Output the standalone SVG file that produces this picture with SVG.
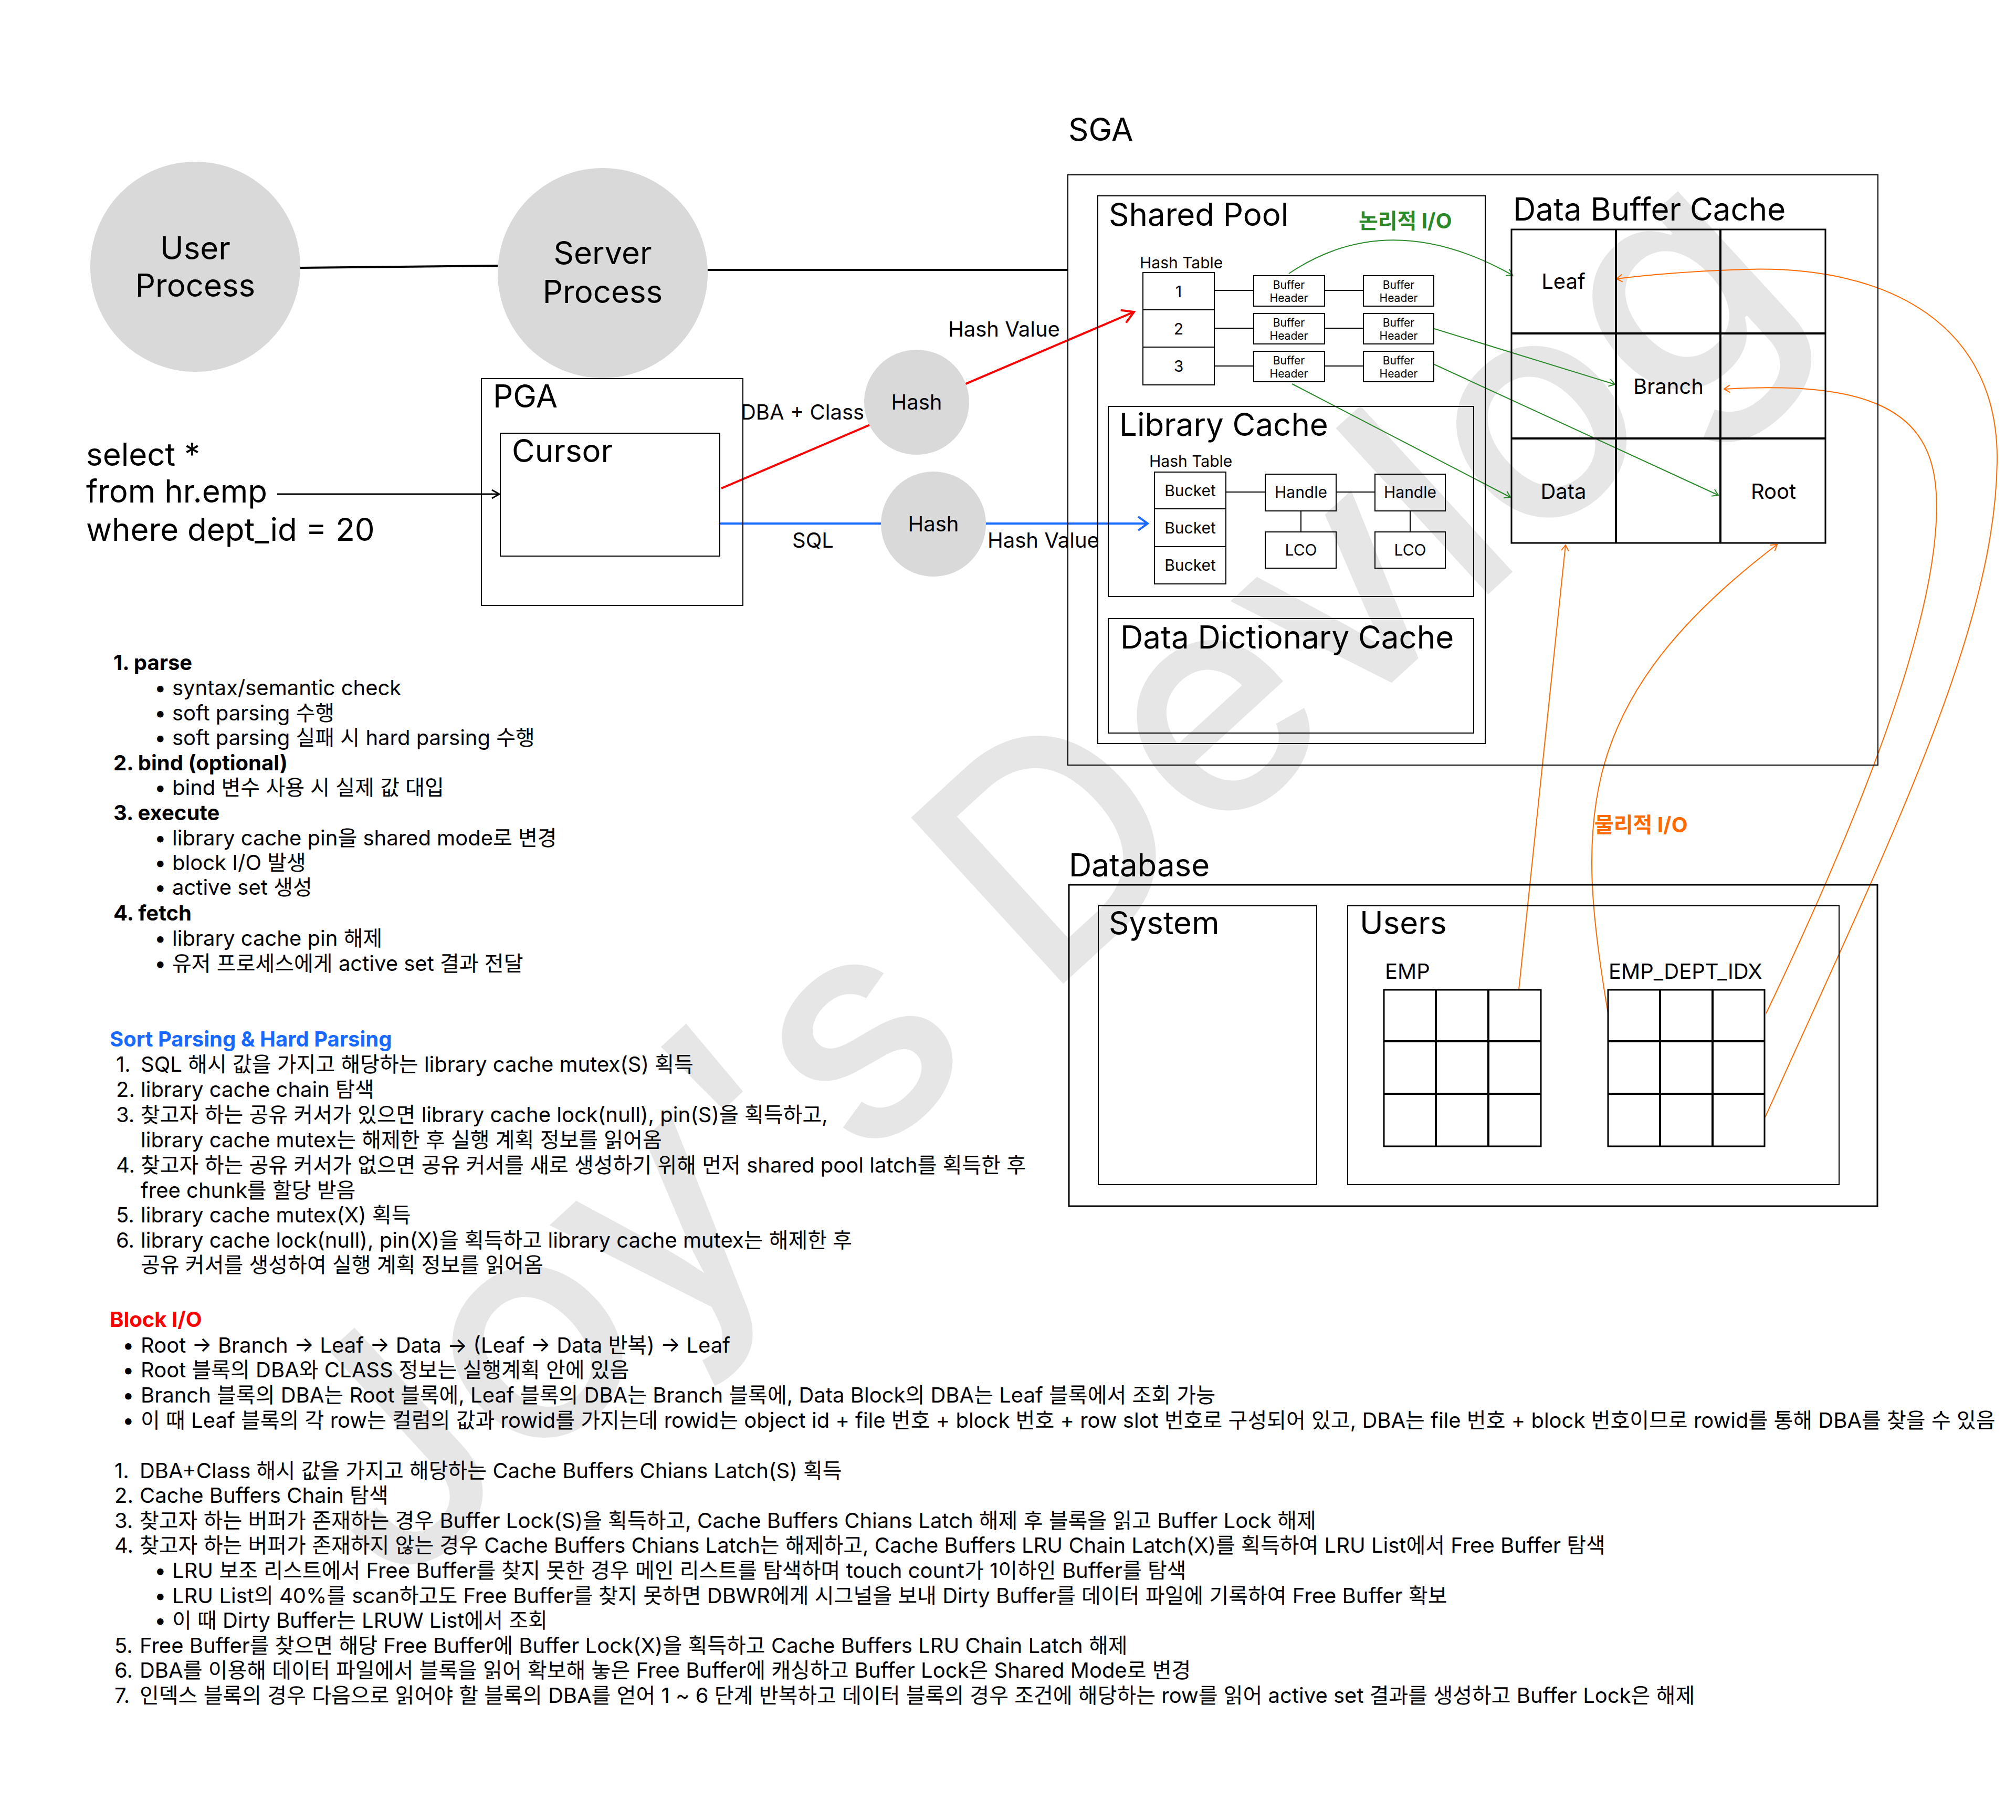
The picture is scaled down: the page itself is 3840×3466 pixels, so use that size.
<svg xmlns="http://www.w3.org/2000/svg" width="3840" height="3466" viewBox="0 0 3840 3466">
<style>
text{font-family:Inter,"Noto Sans CJK KR",sans-serif;fill:#000}
.t58{font-size:60px}
.t56{font-size:60px}
.t40{font-size:40px}
.t30{font-size:30px}
.t21{font-size:21px}
.mid{text-anchor:middle}
.b{font-size:40px}
.bb{font-size:40px;font-weight:700}
.box{fill:none;stroke:#000;stroke-width:2}
.ell{fill:#d9d9d9}
.thin{fill:none;stroke:#000;stroke-width:2}
.grid{fill:none;stroke:#000;stroke-width:4}
.green{fill:none;stroke:#2a8a2a;stroke-width:2}
.orange{fill:none;stroke:#ff6a00;stroke-width:2}
.wm{font-size:590px;font-weight:500;fill:#e6e6e6}
</style>
<defs>
<marker id="aBlack" markerUnits="userSpaceOnUse" markerWidth="20" markerHeight="20" viewBox="0 0 20 20" refX="17" refY="10" orient="auto" overflow="visible"><path d="M3,2 L17,10 L3,18" fill="none" stroke="#000" stroke-width="3"/></marker>
<marker id="aRed" markerUnits="userSpaceOnUse" markerWidth="30" markerHeight="30" viewBox="0 0 30 30" refX="27" refY="15" orient="auto" overflow="visible"><path d="M5,2 L27,15 L5,28" fill="none" stroke="#ff0000" stroke-width="4"/></marker>
<marker id="aBlue" markerUnits="userSpaceOnUse" markerWidth="30" markerHeight="30" viewBox="0 0 30 30" refX="27" refY="15" orient="auto" overflow="visible"><path d="M9,2 L27,15 L9,28" fill="none" stroke="#1769ff" stroke-width="4"/></marker>
<marker id="aGreen" markerUnits="userSpaceOnUse" markerWidth="16" markerHeight="16" viewBox="0 0 16 16" refX="14" refY="8" orient="auto" overflow="visible"><path d="M3,1 L14,8 L3,15" fill="none" stroke="#2a8a2a" stroke-width="2"/></marker>
<marker id="aOrange" markerUnits="userSpaceOnUse" markerWidth="16" markerHeight="16" viewBox="0 0 16 16" refX="14" refY="8" orient="auto" overflow="visible"><path d="M3,1 L14,8 L3,15" fill="none" stroke="#ff6a00" stroke-width="2"/></marker>
</defs>
<rect width="3840" height="3466" fill="#fff"/>
<text class="wm" x="750" y="3042" transform="rotate(-42.5 750 3042)">Joy's Devlog</text>

<g id="connectors">
<line x1="571" y1="510" x2="948" y2="506" stroke="#000" stroke-width="4"/>
<line x1="1347" y1="514" x2="2034" y2="514" stroke="#000" stroke-width="4"/>
<line x1="528" y1="941" x2="951" y2="941" stroke="#000" stroke-width="3" marker-end="url(#aBlack)"/>
<line x1="1374" y1="930" x2="2160" y2="594" stroke="#ff0000" stroke-width="4" marker-end="url(#aRed)"/>
<line x1="1371" y1="997" x2="2186" y2="997" stroke="#1769ff" stroke-width="4" marker-end="url(#aBlue)"/>
<g class="thin">
<line x1="2313" y1="553" x2="2388" y2="553"/><line x1="2523" y1="553" x2="2597" y2="553"/>
<line x1="2313" y1="625" x2="2388" y2="625"/><line x1="2523" y1="625" x2="2597" y2="625"/>
<line x1="2313" y1="697" x2="2388" y2="697"/><line x1="2523" y1="697" x2="2597" y2="697"/>
<line x1="2335" y1="937" x2="2410" y2="937"/><line x1="2545" y1="937" x2="2619" y2="937"/>
<line x1="2478" y1="973" x2="2478" y2="1013"/><line x1="2686" y1="973" x2="2686" y2="1013"/>
</g>
<path class="green" d="M2455,521 Q2646,392 2881,524" marker-end="url(#aGreen)"/>
<path class="green" d="M2732,626 L3076,732" marker-end="url(#aGreen)"/>
<path class="green" d="M2732,694 L3273,943" marker-end="url(#aGreen)"/>
<path class="green" d="M2461,731 L2877,947" marker-end="url(#aGreen)"/>
<path class="orange" d="M2893,1885 L2982,1038" marker-end="url(#aOrange)"/>
<path class="orange" d="M3063,1930 C3000,1560 3000,1330 3385,1037" marker-end="url(#aOrange)"/>
<path class="orange" d="M3364,1930 C3560,1520 3700,1150 3688,940 C3680,780 3560,725 3284,741" marker-end="url(#aOrange)"/>
<path class="orange" d="M3362,2128 C3600,1600 3800,1200 3804,880 C3808,620 3600,505 3326,513 C3230,516 3150,522 3079,531" marker-end="url(#aOrange)"/>
</g>

<g id="user-process"><circle class="ell" cx="372" cy="508" r="200"/><text class="t58 mid" x="372" y="494">User</text><text class="t58 mid" x="372" y="565">Process</text></g>
<g id="server-process"><circle class="ell" cx="1148" cy="520" r="200"/><text class="t58 mid" x="1148" y="503">Server</text><text class="t58 mid" x="1148" y="577">Process</text></g>
<g id="sql-query"><text class="t56" x="164" y="887">select *</text><text class="t56" x="164" y="957">from hr.emp</text><text class="t56" x="164" y="1030">where dept_id = 20</text></g>
<g id="pga"><rect class="box" x="917" y="721" width="498" height="432"/><text class="t58" x="939" y="776">PGA</text></g>
<g id="cursor"><rect class="box" x="953" y="825" width="418" height="234"/><text class="t58" x="975" y="880">Cursor</text></g>
<g id="hash-dba"><circle class="ell" cx="1746" cy="766" r="100"/><text class="t40 mid" x="1746" y="780">Hash</text></g>
<g id="hash-sql"><circle class="ell" cx="1778" cy="998" r="100"/><text class="t40 mid" x="1778" y="1012">Hash</text></g>
<g id="labels">
<text class="t40" x="1411" y="799">DBA + Class</text>
<text class="t40" x="1806" y="641">Hash Value</text>
<text class="t40" x="1509" y="1043">SQL</text>
<text class="t40" x="1881" y="1043">Hash Value</text>
</g>

<g id="sga"><text class="t58" x="2035" y="268">SGA</text><rect class="box" x="2034" y="333" width="1543" height="1124"/></g>
<g id="shared-pool"><rect class="box" x="2091" y="373" width="738" height="1043"/><text class="t58" x="2112" y="430">Shared Pool</text>
<text x="2588" y="435" style="font-size:40px;font-weight:700;fill:#2a8a2a">논리적 I/O</text></g>
<g id="buffer-hash-table"><text class="t30" x="2171" y="511">Hash Table</text>
<rect class="box" x="2177" y="519" width="136" height="71"/><rect class="box" x="2177" y="590" width="136" height="71"/><rect class="box" x="2177" y="661" width="136" height="72"/>
<text class="t30 mid" x="2245" y="566">1</text><text class="t30 mid" x="2245" y="637">2</text><text class="t30 mid" x="2245" y="708">3</text></g>
<g id="buffer-headers">
<rect class="box" x="2388" y="525" width="135" height="58"/><rect class="box" x="2597" y="525" width="134" height="58"/>
<rect class="box" x="2388" y="597" width="135" height="58"/><rect class="box" x="2597" y="597" width="134" height="58"/>
<rect class="box" x="2388" y="669" width="135" height="58"/><rect class="box" x="2597" y="669" width="134" height="58"/>
<text class="t21 mid" x="2455" y="550">Buffer</text><text class="t21 mid" x="2455" y="575">Header</text>
<text class="t21 mid" x="2664" y="550">Buffer</text><text class="t21 mid" x="2664" y="575">Header</text>
<text class="t21 mid" x="2455" y="622">Buffer</text><text class="t21 mid" x="2455" y="647">Header</text>
<text class="t21 mid" x="2664" y="622">Buffer</text><text class="t21 mid" x="2664" y="647">Header</text>
<text class="t21 mid" x="2455" y="694">Buffer</text><text class="t21 mid" x="2455" y="719">Header</text>
<text class="t21 mid" x="2664" y="694">Buffer</text><text class="t21 mid" x="2664" y="719">Header</text>
</g>
<g id="library-cache"><rect class="box" x="2111" y="774" width="696" height="362"/><text class="t58" x="2132" y="830">Library Cache</text>
<text class="t30" x="2189" y="889">Hash Table</text>
<rect class="box" x="2199" y="899" width="136" height="70"/><rect class="box" x="2199" y="969" width="136" height="72"/><rect class="box" x="2199" y="1041" width="136" height="71"/>
<text class="t30 mid" x="2267" y="945">Bucket</text><text class="t30 mid" x="2267" y="1016">Bucket</text><text class="t30 mid" x="2267" y="1087">Bucket</text>
<rect class="box" x="2410" y="903" width="135" height="70"/><rect class="box" x="2619" y="903" width="134" height="70"/>
<rect class="box" x="2410" y="1013" width="135" height="69"/><rect class="box" x="2619" y="1013" width="134" height="69"/>
<text class="t30 mid" x="2478" y="948">Handle</text><text class="t30 mid" x="2686" y="948">Handle</text>
<text class="t30 mid" x="2478" y="1058">LCO</text><text class="t30 mid" x="2686" y="1058">LCO</text></g>
<g id="data-dictionary-cache"><rect class="box" x="2111" y="1178" width="696" height="218"/><text class="t58" x="2134" y="1235">Data Dictionary Cache</text></g>
<g id="data-buffer-cache"><text class="t58" x="2882" y="420">Data Buffer Cache</text>
<rect class="box" x="2879" y="437" width="598" height="597" style="stroke-width:3"/>
<path class="grid" d="M3078,437 V1034 M3277,437 V1034 M2879,635 H3477 M2879,835 H3477"/>
<text class="t40 mid" x="2978" y="550">Leaf</text><text class="t40 mid" x="3178" y="750">Branch</text>
<text class="t40 mid" x="2978" y="950">Data</text><text class="t40 mid" x="3378" y="950">Root</text></g>
<g id="database"><text class="t58" x="2036" y="1669">Database</text><rect class="box" x="2036" y="1685" width="1540" height="612" style="stroke-width:3"/>
<text x="3037" y="1585" style="font-size:40px;font-weight:700;fill:#ff6a00">물리적 I/O</text></g>
<g id="system"><rect class="box" x="2092" y="1725" width="416" height="531"/><text class="t58" x="2112" y="1779">System</text></g>
<g id="users"><rect class="box" x="2567" y="1725" width="936" height="531"/><text class="t58" x="2590" y="1779">Users</text></g>
<g id="emp"><text class="t40" x="2638" y="1864">EMP</text>
<rect class="box" x="2636" y="1885" width="299" height="298" style="stroke-width:3"/>
<path class="grid" d="M2735,1885 V2183 M2835,1885 V2183 M2636,1983 H2935 M2636,2083 H2935" style="stroke-width:4"/></g>
<g id="emp-dept-idx"><text class="t40" x="3064" y="1864">EMP_DEPT_IDX</text>
<rect class="box" x="3063" y="1885" width="298" height="298" style="stroke-width:3"/>
<path class="grid" d="M3162,1885 V2183 M3262,1885 V2183 M3063,1983 H3361 M3063,2083 H3361" style="stroke-width:4"/></g>

<g id="parse-steps">
<text class="bb" x="216" y="1276">1. parse</text>
<text class="b" x="294" y="1324">•</text><text class="b" x="328" y="1324">syntax/semantic check</text>
<text class="b" x="294" y="1372">•</text><text class="b" x="328" y="1372">soft parsing 수행</text>
<text class="b" x="294" y="1419">•</text><text class="b" x="328" y="1419">soft parsing 실패 시 hard parsing 수행</text>
<text class="bb" x="216" y="1467">2. bind (optional)</text>
<text class="b" x="294" y="1514">•</text><text class="b" x="328" y="1514">bind 변수 사용 시 실제 값 대입</text>
<text class="bb" x="216" y="1562">3. execute</text>
<text class="b" x="294" y="1610">•</text><text class="b" x="328" y="1610">library cache pin을 shared mode로 변경</text>
<text class="b" x="294" y="1657">•</text><text class="b" x="328" y="1657">block I/O 발생</text>
<text class="b" x="294" y="1704">•</text><text class="b" x="328" y="1704">active set 생성</text>
<text class="bb" x="216" y="1753">4. fetch</text>
<text class="b" x="294" y="1801">•</text><text class="b" x="328" y="1801">library cache pin 해제</text>
<text class="b" x="294" y="1849">•</text><text class="b" x="328" y="1849">유저 프로세스에게 active set 결과 전달</text>
</g>
<g id="parsing-notes">
<text class="bb" x="209" y="1993" style="fill:#1769ff">Sort Parsing &amp; Hard Parsing</text>
<text class="b" x="221" y="2041">1.</text><text class="b" x="268" y="2041">SQL 해시 값을 가지고 해당하는 library cache mutex(S) 획득</text>
<text class="b" x="221" y="2089">2.</text><text class="b" x="268" y="2089">library cache chain 탐색</text>
<text class="b" x="221" y="2137">3.</text><text class="b" x="268" y="2137">찾고자 하는 공유 커서가 있으면 library cache lock(null), pin(S)을 획득하고,</text>
<text class="b" x="268" y="2185">library cache mutex는 해제한 후 실행 계획 정보를 읽어옴</text>
<text class="b" x="221" y="2233">4.</text><text class="b" x="268" y="2233">찾고자 하는 공유 커서가 없으면 공유 커서를 새로 생성하기 위해 먼저 shared pool latch를 획득한 후</text>
<text class="b" x="268" y="2281">free chunk를 할당 받음</text>
<text class="b" x="221" y="2328">5.</text><text class="b" x="268" y="2328">library cache mutex(X) 획득</text>
<text class="b" x="221" y="2376">6.</text><text class="b" x="268" y="2376">library cache lock(null), pin(X)을 획득하고 library cache mutex는 해제한 후</text>
<text class="b" x="268" y="2423">공유 커서를 생성하여 실행 계획 정보를 읽어옴</text>
</g>
<g id="block-io-notes">
<text class="bb" x="209" y="2527" style="fill:#ff0000">Block I/O</text>
<text class="b" x="233" y="2576">•</text><text class="b" x="268" y="2576">Root → Branch → Leaf → Data → (Leaf → Data 반복) → Leaf</text>
<text class="b" x="233" y="2623">•</text><text class="b" x="268" y="2623">Root 블록의 DBA와 CLASS 정보는 실행계획 안에 있음</text>
<text class="b" x="233" y="2671">•</text><text class="b" x="268" y="2671">Branch 블록의 DBA는 Root 블록에, Leaf 블록의 DBA는 Branch 블록에, Data Block의 DBA는 Leaf 블록에서 조회 가능</text>
<text class="b" x="233" y="2719">•</text><text class="b" x="268" y="2719">이 때 Leaf 블록의 각 row는 컬럼의 값과 rowid를 가지는데 rowid는 object id + file 번호 + block 번호 + row slot 번호로 구성되어 있고, DBA는 file 번호 + block 번호이므로 rowid를 통해 DBA를 찾을 수 있음</text>
</g>
<g id="buffer-steps">
<text class="b" x="218" y="2815">1.</text><text class="b" x="266" y="2815">DBA+Class 해시 값을 가지고 해당하는 Cache Buffers Chians Latch(S) 획득</text>
<text class="b" x="218" y="2862">2.</text><text class="b" x="266" y="2862">Cache Buffers Chain 탐색</text>
<text class="b" x="218" y="2910">3.</text><text class="b" x="266" y="2910">찾고자 하는 버퍼가 존재하는 경우 Buffer Lock(S)을 획득하고, Cache Buffers Chians Latch 해제 후 블록을 읽고 Buffer Lock 해제</text>
<text class="b" x="218" y="2957">4.</text><text class="b" x="266" y="2957">찾고자 하는 버퍼가 존재하지 않는 경우 Cache Buffers Chians Latch는 해제하고, Cache Buffers LRU Chain Latch(X)를 획득하여 LRU List에서 Free Buffer 탐색</text>
<text class="b" x="294" y="3005">•</text><text class="b" x="328" y="3005">LRU 보조 리스트에서 Free Buffer를 찾지 못한 경우 메인 리스트를 탐색하며 touch count가 1이하인 Buffer를 탐색</text>
<text class="b" x="294" y="3053">•</text><text class="b" x="328" y="3053">LRU List의 40%를 scan하고도 Free Buffer를 찾지 못하면 DBWR에게 시그널을 보내 Dirty Buffer를 데이터 파일에 기록하여 Free Buffer 확보</text>
<text class="b" x="294" y="3100">•</text><text class="b" x="328" y="3100">이 때 Dirty Buffer는 LRUW List에서 조회</text>
<text class="b" x="218" y="3148">5.</text><text class="b" x="266" y="3148">Free Buffer를 찾으면 해당 Free Buffer에 Buffer Lock(X)을 획득하고 Cache Buffers LRU Chain Latch 해제</text>
<text class="b" x="218" y="3195">6.</text><text class="b" x="266" y="3195">DBA를 이용해 데이터 파일에서 블록을 읽어 확보해 놓은 Free Buffer에 캐싱하고 Buffer Lock은 Shared Mode로 변경</text>
<text class="b" x="218" y="3243">7.</text><text class="b" x="266" y="3243">인덱스 블록의 경우 다음으로 읽어야 할 블록의 DBA를 얻어 1 ~ 6 단계 반복하고 데이터 블록의 경우 조건에 해당하는 row를 읽어 active set 결과를 생성하고 Buffer Lock은 해제</text>
</g>
</svg>
